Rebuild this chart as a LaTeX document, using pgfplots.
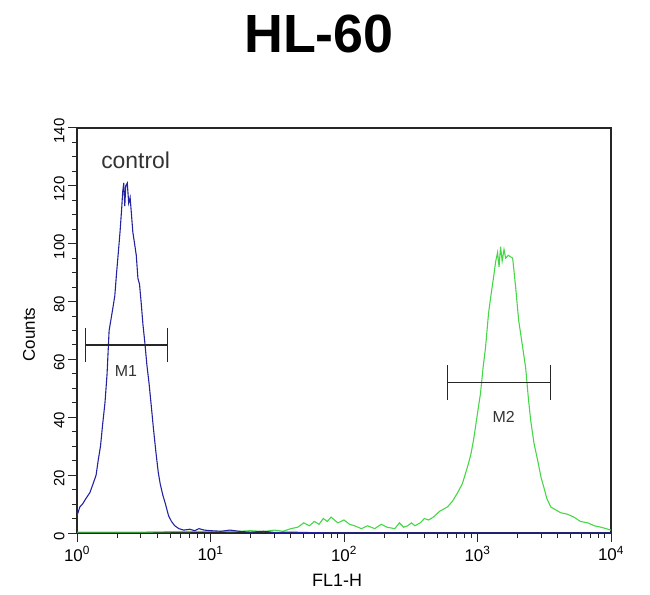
\documentclass[border=0pt]{standalone}
\usepackage{fontspec}
\setmainfont{Liberation Sans}
\usepackage{pgfplots}
\pgfplotsset{compat=1.18}
\definecolor{ctrlblue}{RGB}{35,35,160}
\definecolor{smpgreen}{RGB}{70,215,70}
\begin{document}
\begin{tikzpicture}
\useasboundingbox (0,0) rectangle (650bp,595bp);
\node[font=\fontsize{54}{58}\selectfont\bfseries] at (319bp,561bp) {HL-60};
\begin{axis}[
  at={(77bp,62bp)}, anchor=south west,
  scale only axis, width=534bp, height=405bp,
  xmode=log, xmin=1, xmax=10000, ymin=0, ymax=140,
  axis line style={black!85, line width=1.2pt},
  tick style={black!85, line width=1pt},
  tick align=outside,
  xtick pos=bottom, ytick pos=left,
  major tick length=9bp, minor tick length=5bp,
  xtick={1,10,100,1000,10000},
  xticklabels={10\textsuperscript{0},10\textsuperscript{1},10\textsuperscript{2},10\textsuperscript{3},10\textsuperscript{4}},
  ytick={0,20,40,60,80,100,120,140},
  minor y tick num=3,
  /pgf/number format/assume math mode=true,
  xticklabel style={font=\fontsize{17}{18}\selectfont, yshift=-1bp},
  yticklabel style={font=\fontsize{15}{16}\selectfont, rotate=90, anchor=south, xshift=-3bp},
  xlabel={FL1-H}, ylabel={Counts},
  xlabel style={font=\fontsize{18}{19}\selectfont, at={(axis description cs:0.487,-0.116)}, anchor=center},
  ylabel style={font=\fontsize{17}{18}\selectfont, at={(axis description cs:-0.09,0.49)}, anchor=center},
  clip=true,
]
\addplot[smpgreen, line width=1.1pt] coordinates {
(1,0.3) (3,0.3) (6,0.5) (10,0.6) (15,0.5) (20,0.8) (25,0.5) (30,1) (35,0.6) (40,1.5) (45,2) (50,3.5) (55,2.5) (60,4) (65,3) (70,5) (75,4) (80,5.5) (90,3.5) (100,4.5) (110,3) (120,2.5) (135,1.5) (150,2.5) (170,1.5) (190,3) (210,2) (240,1.5) (260,3.5) (280,2) (300,2.5) (320,3.5) (340,2.5) (373,3.5) (400,5) (430,4.5) (467,5.5) (520,7.5) (595,9) (650,11) (707,13.8) (770,17) (841,22.8) (890,27) (933,32) (990,40) (1054,48.4) (1100,57) (1148,64) (1210,76) (1260,82) (1320,88.5) (1370,94) (1414,97) (1450,92) (1489,99) (1530,94) (1580,98) (1625,95) (1700,96) (1834,95) (1931,85) (2033,73.6) (2150,66) (2296,57) (2400,47) (2502,39) (2650,31) (2826,25) (3000,19) (3133,16) (3300,12) (3539,9) (3850,8) (4207,7) (4700,6.5) (5272,5.5) (5900,4) (6719,3.5) (7500,2.5) (8414,2) (9200,1.5) (10000,1)
};
\addplot[ctrlblue, line width=1.1pt] coordinates {
(1.00,6) (1.05,9) (1.10,10) (1.17,12) (1.25,14) (1.32,17) (1.39,20) (1.44,25) (1.50,30) (1.56,38) (1.62,45) (1.68,55) (1.74,70) (1.80,74) (1.86,78) (1.92,82) (1.98,90) (2.04,97) (2.10,104) (2.16,112) (2.20,118) (2.24,121) (2.28,113) (2.32,120) (2.38,121) (2.44,114) (2.50,116) (2.56,110) (2.62,104) (2.70,100) (2.78,96) (2.86,88) (2.94,86) (3.02,80) (3.12,72) (3.22,66) (3.34,58) (3.46,52) (3.60,44) (3.74,36) (3.90,28) (4.06,21) (4.20,17) (4.40,13) (4.60,10) (4.85,6) (5.10,4) (5.40,2.5) (5.80,1.5) (6.30,1) (7.00,1.3) (7.60,0.8) (8.20,1.5) (9.00,1) (10,0.8) (12,0.6) (14,1) (17,0.5) (20,0.3) (25,0.6) (30,0.2) (40,0.3) (60,0.1) (100,0) (1000,0) (10000,0)
};
% marker M1
\addplot[black!85, line width=1.2pt] coordinates {(1.15,65) (4.75,65)};
\addplot[black!85, line width=1.2pt] coordinates {(1.15,59) (1.15,71)};
\addplot[black!85, line width=1.2pt] coordinates {(4.75,59) (4.75,71)};
% marker M2
\addplot[black!85, line width=1.2pt] coordinates {(595,52) (3540,52)};
\addplot[black!85, line width=1.2pt] coordinates {(595,46) (595,58)};
\addplot[black!85, line width=1.2pt] coordinates {(3540,46) (3540,58)};
\node[font=\fontsize{16}{17}\selectfont, text=black!80] at (axis cs:2.33,56) {M1};
\node[font=\fontsize{16}{17}\selectfont, text=black!80] at (axis cs:1568,40) {M2};
\node[font=\fontsize{23}{25}\selectfont, text=black!80] at (axis cs:2.75,129) {control};
\end{axis}
\end{tikzpicture}
\end{document}
